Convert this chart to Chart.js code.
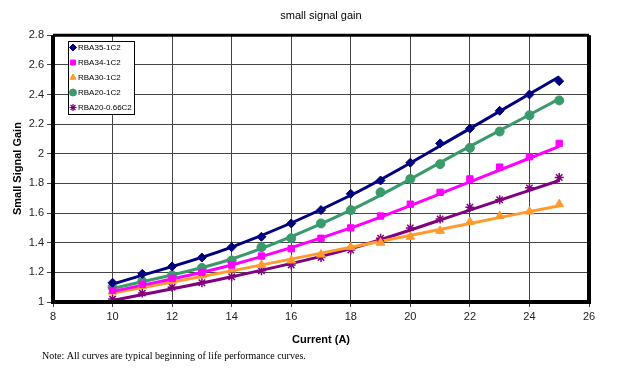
<!DOCTYPE html>
<html>
<head>
<meta charset="utf-8">
<script src="https://cdn.jsdelivr.net/npm/chart.js@4.4.1/dist/chart.umd.min.js"></script>
<style>
  html, body { margin: 0; padding: 0; background: #fff; }
  #wrap { width: 618px; height: 375px; }
</style>
</head>
<body>
<div id="wrap"><canvas id="gain"></canvas></div>
<script>
// current (A) at each measured point
const current = [10, 11, 12, 13, 14, 15, 16, 17, 18, 19, 20, 21, 22, 23, 24, 25];

// measured small signal gain
const rba35 = [1.13, 1.19, 1.24, 1.30, 1.37, 1.44, 1.53, 1.62, 1.73, 1.82, 1.94, 2.07, 2.17, 2.29, 2.40, 2.49];
const rba34 = [1.08, 1.12, 1.16, 1.20, 1.25, 1.31, 1.36, 1.43, 1.50, 1.58, 1.66, 1.74, 1.83, 1.91, 1.98, 2.07];
const rba30 = [1.07, 1.11, 1.14, 1.18, 1.22, 1.25, 1.28, 1.32, 1.37, 1.40, 1.44, 1.48, 1.54, 1.58, 1.61, 1.66];
const rba20 = [1.10, 1.14, 1.18, 1.23, 1.28, 1.37, 1.43, 1.53, 1.62, 1.74, 1.83, 1.93, 2.04, 2.15, 2.26, 2.36];
const rba20b = [1.02, 1.06, 1.10, 1.13, 1.17, 1.21, 1.25, 1.30, 1.35, 1.43, 1.50, 1.56, 1.64, 1.69, 1.77, 1.84];

// trend lines at a few currents
const trendX = [10, 14, 18, 22, 25];
const trend35 = [1.12, 1.37, 1.72, 2.17, 2.52];
const trend34 = [1.07, 1.25, 1.50, 1.81, 2.05];
const trend30 = [1.06, 1.21, 1.37, 1.53, 1.65];
const trend20 = [1.09, 1.29, 1.62, 2.05, 2.37];
const trend20b = [1.01, 1.17, 1.36, 1.62, 1.82];

const seriesNames = ['RBA35-1C2', 'RBA34-1C2', 'RBA30-1C2', 'RBA20-1C2', 'RBA20-0.66C2'];
const xTicks = [8, 10, 12, 14, 16, 18, 20, 22, 24, 26];
const yTicks = [1, 1.2, 1.4, 1.6, 1.8, 2, 2.2, 2.4, 2.6, 2.8];

const colors = ['#000080', '#ff00ff', '#ff9a2e', '#3a9a6c', '#800080'];
const shapes = ['rectRot', 'rect', 'triangle', 'circle', 'star'];
const radii = [4.5, 4.5, 5, 4.5, 4.5];

const measured = [rba35, rba34, rba30, rba20, rba20b];
const trends = [trend35, trend34, trend30, trend20, trend20b];

function pts(xs, ys) {
    return xs.map((x, i) => ({ x: x, y: ys[i] }));
}

const datasets = [];
measured.forEach((ys, i) => {
    datasets.push({
        type: 'scatter',
        label: seriesNames[i],
        data: pts(current, ys),
        showLine: false,
        pointStyle: shapes[i],
        pointRadius: radii[i],
        borderColor: colors[i],
        backgroundColor: colors[i],
        borderWidth: shapes[i] === 'star' ? 1.5 : 1,
        order: 0
    });
});
trends.forEach((ys, i) => {
    datasets.push({
        type: 'line',
        label: seriesNames[i] + ' trend',
        data: pts(trendX, ys),
        borderColor: colors[i],
        borderWidth: 3,
        pointRadius: 0,
        cubicInterpolationMode: 'monotone',
        fill: false,
        order: 1
    });
});

// frame round the plot, legend box and the note underneath
const extras = {
    id: 'extras',
    afterDatasetsDraw(chart) {
        const ctx = chart.ctx;
        const a = chart.chartArea;
        ctx.save();
        ctx.strokeStyle = '#000';
        ctx.lineWidth = 4;
        ctx.beginPath();
        ctx.moveTo(a.left, a.top);
        ctx.lineTo(a.left, a.bottom);
        ctx.lineTo(a.right, a.bottom);
        ctx.lineTo(a.right, a.top);
        ctx.stroke();
        ctx.lineWidth = 3;
        ctx.beginPath();
        ctx.moveTo(a.left, a.top);
        ctx.lineTo(a.right, a.top);
        ctx.stroke();

        // legend
        const bx = 68, by = 41, bw = 66, bh = 73;
        ctx.fillStyle = '#fff';
        ctx.fillRect(bx, by, bw, bh);
        ctx.lineWidth = 1;
        ctx.strokeStyle = '#000';
        ctx.strokeRect(bx + 0.5, by + 0.5, bw, bh);
        ctx.font = '8px "Liberation Sans", Arial, sans-serif';
        ctx.textBaseline = 'middle';
        ctx.textAlign = 'left';
        for (let i = 0; i < seriesNames.length; i++) {
            const ds = chart.data.datasets[i];
            const y = by + 6.5 + i * 15;
            const lw = ds.pointStyle === 'star' ? 1.2 : 1;
            ctx.fillStyle = ds.backgroundColor;
            ctx.strokeStyle = ds.borderColor;
            ctx.lineWidth = lw;
            Chart.helpers.drawPoint(ctx, {
                pointStyle: ds.pointStyle,
                radius: 3.5,
                rotation: 0,
                borderWidth: lw
            }, bx + 5, y);
            ctx.fillStyle = '#000';
            ctx.fillText(ds.label, bx + 10, y + 0.5);
        }

        ctx.restore();
    },
    afterDraw(chart) {
        const ctx = chart.ctx;
        ctx.save();
        ctx.fillStyle = '#000';
        ctx.font = '10px "Liberation Serif", "Times New Roman", serif';
        ctx.textBaseline = 'middle';
        ctx.textAlign = 'left';
        ctx.fillText('Note: All curves are typical beginning of life performance curves.', 42, 356);
        ctx.restore();
    }
};

new Chart(document.getElementById('gain'), {
    data: { datasets: datasets },
    plugins: [extras],
    options: {
        responsive: true,
        maintainAspectRatio: false,
        animation: false,
        layout: { padding: { top: 0, right: 29, bottom: 0, left: 0 } },
        plugins: {
            legend: { display: false },
            tooltip: { enabled: false },
            title: {
                display: true,
                text: 'small signal gain',
                fullSize: false,
                color: '#000',
                font: { family: '"Liberation Sans", Arial, sans-serif', size: 11, weight: 'normal' },
                padding: { top: 9, bottom: 13 }
            }
        },
        scales: {
            x: {
                type: 'linear',
                min: 8,
                max: 26,
                afterBuildTicks: (scale) => { scale.ticks = xTicks.map(v => ({ value: v })); },
                afterFit: (scale) => { scale.height = 73; },
                ticks: {
                    color: '#222',
                    font: { family: '"Liberation Sans", Arial, sans-serif', size: 11 },
                    padding: 3,
                    maxRotation: 0
                },
                grid: { color: '#444', lineWidth: 1, tickLength: 5 },
                border: { display: false },
                title: {
                    display: true,
                    text: 'Current (A)',
                    color: '#000',
                    font: { family: '"Liberation Sans", Arial, sans-serif', size: 11, weight: 'bold' },
                    padding: { top: 0, bottom: 28 }
                }
            },
            y: {
                type: 'linear',
                min: 1,
                max: 2.8,
                afterBuildTicks: (scale) => { scale.ticks = yTicks.map(v => ({ value: v })); },
                afterFit: (scale) => { scale.width = 53; },
                ticks: {
                    color: '#222',
                    font: { family: '"Liberation Sans", Arial, sans-serif', size: 11 },
                    padding: 3,
                    callback: (v) => String(Math.round(v * 10) / 10)
                },
                grid: { color: '#444', lineWidth: 1, tickLength: 6 },
                border: { display: false },
                title: {
                    display: true,
                    text: 'Small Signal Gain',
                    color: '#000',
                    font: { family: '"Liberation Sans", Arial, sans-serif', size: 11, weight: 'bold' },
                    padding: { top: 11, bottom: 0 }
                }
            }
        }
    }
});
</script>
</body>
</html>
